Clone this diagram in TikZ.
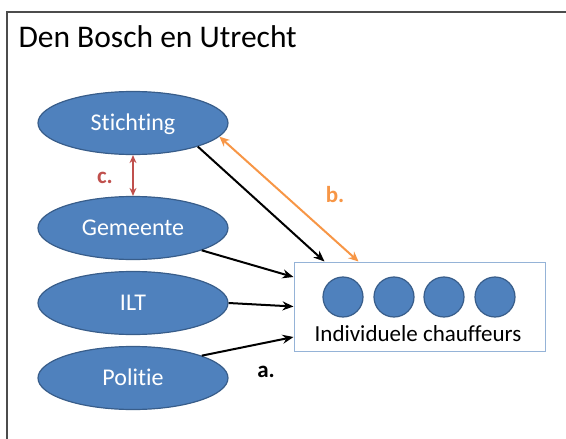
\documentclass[tikz,border=0pt]{standalone}
\usepackage{fontspec}
\setmainfont[Ligatures=NoCommon]{Carlito}
\usetikzlibrary{shapes.geometric,arrows.meta,positioning}
\definecolor{blauw}{HTML}{4F81BD}
\definecolor{donkerblauw}{HTML}{385D8A}
\definecolor{lichtblauw}{HTML}{95B3D7}
\definecolor{oranje}{HTML}{F79646}
\definecolor{rood}{HTML}{C0504D}

\begin{document}
\begin{tikzpicture}[x=1pt,y=-1pt,
   actor/.style={ellipse,draw=donkerblauw,line width=1.2pt,fill=blauw,text=white,minimum width=190pt,minimum height=63pt,inner sep=0pt,font=\fontsize{24}{28}\selectfont,text height=15.5pt,text depth=0pt},
   chauffeur/.style={circle,draw=donkerblauw,line width=1.2pt,fill=blauw,minimum size=40pt,inner sep=0pt},
   pijl/.style={line width=2pt,-{Stealth[length=11pt,width=9pt]}},
   dubbel/.style={line width=2pt,{Stealth[length=10pt,width=9pt]}-{Stealth[length=10pt,width=9pt]}},
   letter/.style={font=\fontsize{23}{27}\selectfont\bfseries}]
   \useasboundingbox (0,0) rectangle (566,439);
   \draw[line width=1.1pt,black!70] (7,439) -- (7,12) -- (566,12);
   \node[anchor=base west,font=\fontsize{31.5}{38}\selectfont] (titel) at (15,47) {Den Bosch en Utrecht};
   \node[actor] (stichting) at (133,123) {Stichting};
   \node[actor] (gemeente) at (133,228) {Gemeente};
   \node[actor] (ilt) at (133,303) {ILT};
   \node[actor] (politie) at (133,378) {Politie};
   \node[draw=lichtblauw,line width=1pt,minimum width=251pt,minimum height=89pt] (groep) at (419.5,306.5) {};
   \foreach \i/\x in {1/343,2/394,3/444,4/495}
      \node[chauffeur] (c\i) at (\x,297) {};
   \node[anchor=base,font=\fontsize{23}{28}\selectfont] (chauffeurs) at (418,341) {Individuele chauffeurs};
   \draw[pijl] (stichting.-20) -- ([xshift=31pt]groep.north west);
   \draw[dubbel,oranje] (stichting.-9) -- ([xshift=65pt]groep.north west);
   \draw[line width=2pt,rood,{Stealth[length=8pt,width=7pt]}-{Stealth[length=8pt,width=7pt]}] (stichting) -- (gemeente);
   \draw[pijl] (gemeente.-18) -- ([yshift=29.5pt]groep.west);
   \draw[pijl] (ilt.east) -- (groep.west);
   \draw[pijl] (politie.18) -- ([yshift=-30.5pt]groep.west);
   \node[letter,text=rood] (c) at (105,178) {c.};
   \node[letter,text=oranje] (b) at (335,195) {b.};
   \node[letter] (a) at (266,372) {a.};
\end{tikzpicture}
\end{document}
